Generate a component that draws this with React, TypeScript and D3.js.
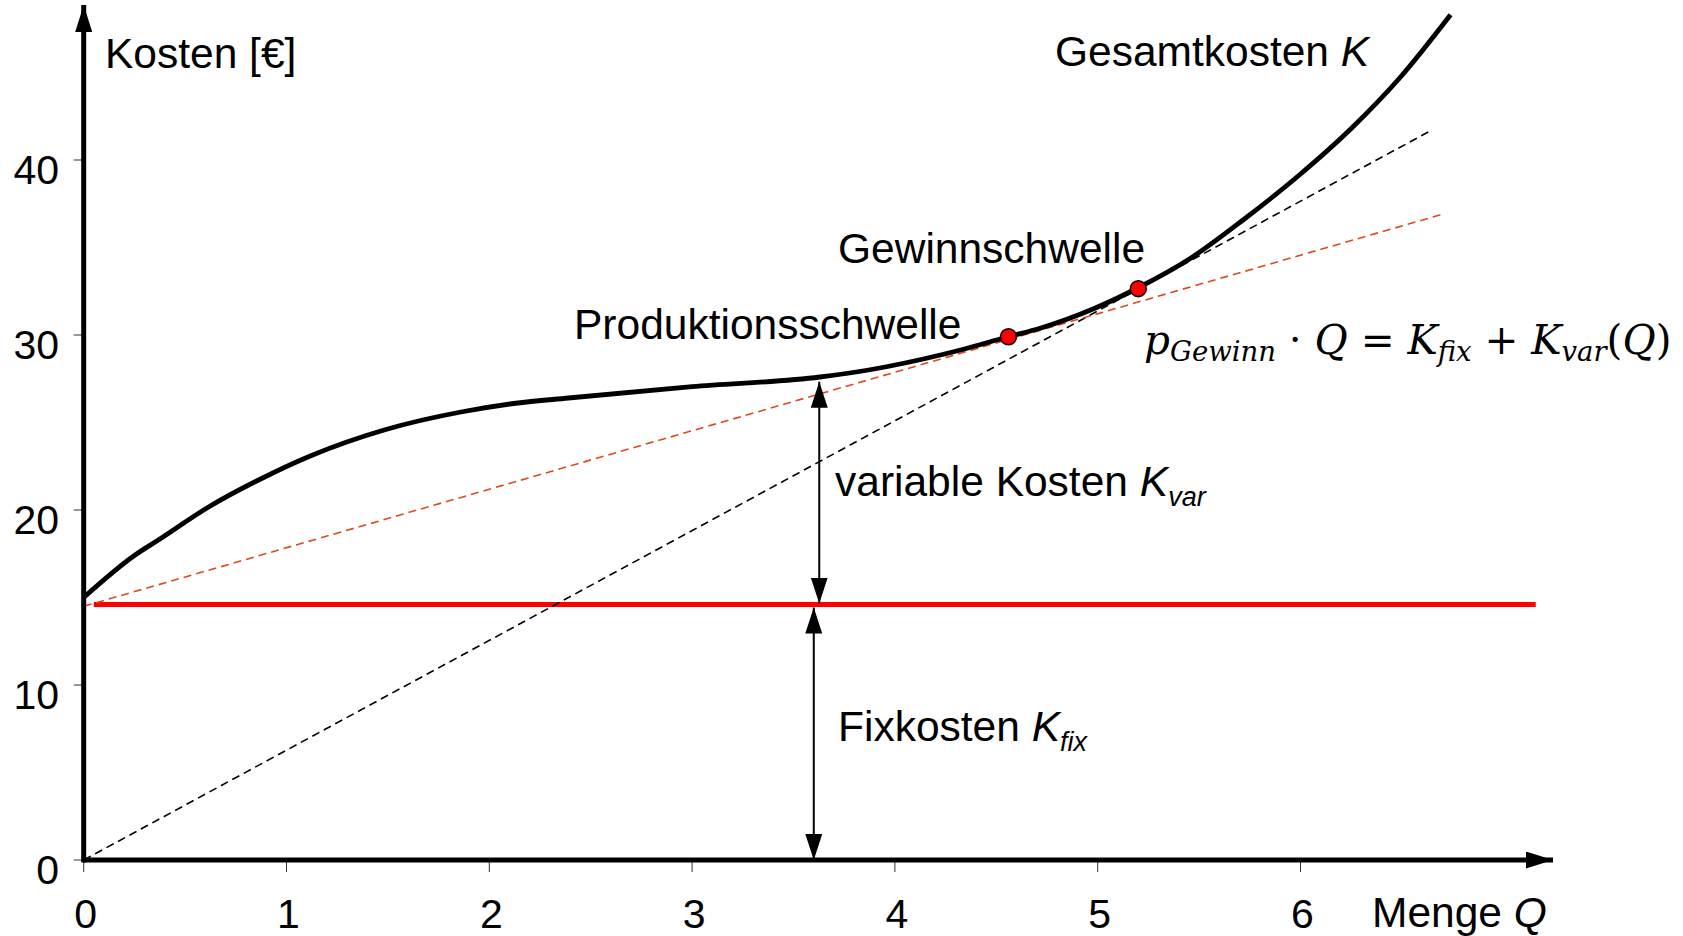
import { useEffect, useRef } from "react";
import * as d3 from "d3";

// tick values
const xTicks = [0, 1, 2, 3, 4, 5, 6];
const yTicks = [0, 10, 20, 30, 40];

// Gesamtkosten K(Q)
const totalQ = [0, 0.25, 0.37, 0.62, 0.86, 1.12, 1.49, 1.86, 2.13, 2.39, 3.0, 3.63, 3.87, 4.24, 4.56, 4.72, 4.98, 5.2, 5.46, 5.72, 5.99, 6.25, 6.49, 6.74];
const totalK = [15.0, 17.4, 18.3, 20.2, 21.7, 23.1, 24.6, 25.6, 26.1, 26.4, 27.05, 27.6, 28.0, 28.9, 29.9, 30.4, 31.5, 32.7, 34.4, 36.6, 39.1, 41.8, 44.7, 48.3];

// fixed costs
const fixCost = 14.6;
const fixQ = [0.05, 7.16];

// tangent through Produktionsschwelle (orange dashed)
const varLineQ = [0, 6.7];
const varLineK = [14.5, 36.9];

// revenue line through origin and Gewinnschwelle (black dashed)
const revLineQ = [0, 6.63];
const revLineK = [0, 41.6];

// marked thresholds
const pointNames = ["Produktionsschwelle", "Gewinnschwelle"];
const pointQ = [4.56, 5.2];
const pointK = [29.9, 32.65];

// dimension arrows
const varArrowQ = 3.627;
const varArrowTop = 27.33;
const fixArrowQ = 3.6;

// axis extents (arrow tips)
const xAxisEnd = 7.245;
const yAxisEnd = 48.86;

const W = 1683;
const H = 936;
const FONT = "'Liberation Sans', Arial, sans-serif";
const MATH = "'DejaVu Serif', serif";

export default function App() {
  const svgRef = useRef<SVGSVGElement>(null);

  useEffect(() => {
    if (!svgRef.current) return;
    const svg = d3.select(svgRef.current);
    svg.selectAll("*").remove();

    const x = d3.scaleLinear().domain([0, 6]).range([83.7, 1300.5]);
    const y = d3.scaleLinear().domain([0, 40]).range([860, 160]);

    const defs = svg.append("defs");
    const marker = (id: string, w: number, l: number) =>
      defs
        .append("marker")
        .attr("id", id)
        .attr("viewBox", `0 0 ${l} ${w}`)
        .attr("refX", l)
        .attr("refY", w / 2)
        .attr("markerWidth", l)
        .attr("markerHeight", w)
        .attr("markerUnits", "userSpaceOnUse")
        .attr("orient", "auto-start-reverse")
        .append("path")
        .attr("d", `M0,0L${l},${w / 2}L0,${w}Z`)
        .attr("fill", "#000");
    marker("axisHead", 17, 27);
    marker("dimHead", 17, 26);

    const g = svg.append("g");

    // ticks
    g.selectAll("line.xt")
      .data(xTicks)
      .join("line")
      .attr("x1", (d) => x(d))
      .attr("x2", (d) => x(d))
      .attr("y1", y(0))
      .attr("y2", y(0) + 12)
      .attr("stroke", "#333")
      .attr("stroke-width", 1);
    g.selectAll("line.yt")
      .data(yTicks)
      .join("line")
      .attr("x1", x(0) - 10)
      .attr("x2", x(0))
      .attr("y1", (d) => y(d))
      .attr("y2", (d) => y(d))
      .attr("stroke", "#333")
      .attr("stroke-width", 1);

    // tick labels
    g.selectAll("text.xl")
      .data(xTicks)
      .join("text")
      .attr("x", (d) => x(d) + 2)
      .attr("y", 928)
      .attr("text-anchor", "middle")
      .style("font-family", FONT)
      .style("font-size", "41px")
      .text((d) => d);
    g.selectAll("text.yl")
      .data(yTicks)
      .join("text")
      .attr("x", 59)
      .attr("y", (d) => y(d) + 24)
      .attr("text-anchor", "end")
      .style("font-family", FONT)
      .style("font-size", "41px")
      .text((d) => d);

    // fixed cost line
    g.append("line")
      .attr("x1", x(fixQ[0]))
      .attr("x2", x(fixQ[1]))
      .attr("y1", y(fixCost))
      .attr("y2", y(fixCost))
      .attr("stroke", "#ff0000")
      .attr("stroke-width", 5);

    // dashed lines
    g.append("line")
      .attr("x1", x(revLineQ[0]))
      .attr("y1", y(revLineK[0]))
      .attr("x2", x(revLineQ[1]))
      .attr("y2", y(revLineK[1]))
      .attr("stroke", "#000")
      .attr("stroke-width", 1.6)
      .attr("stroke-dasharray", "8,5");
    g.append("line")
      .attr("x1", x(varLineQ[0]))
      .attr("y1", y(varLineK[0]))
      .attr("x2", x(varLineQ[1]))
      .attr("y2", y(varLineK[1]))
      .attr("stroke", "#e0481c")
      .attr("stroke-width", 1.6)
      .attr("stroke-dasharray", "8,5");

    // total cost curve
    const line = d3
      .line<number>()
      .x((d) => x(d))
      .y((_, i) => y(totalK[i]))
      .curve(d3.curveMonotoneX);
    g.append("path")
      .attr("d", line(totalQ))
      .attr("fill", "none")
      .attr("stroke", "#000")
      .attr("stroke-width", 4.8)
      .attr("stroke-linejoin", "round");

    // dimension arrows
    g.append("line")
      .attr("x1", x(varArrowQ))
      .attr("x2", x(varArrowQ))
      .attr("y1", y(fixCost) - 1)
      .attr("y2", y(varArrowTop))
      .attr("stroke", "#000")
      .attr("stroke-width", 2)
      .attr("marker-start", "url(#dimHead)")
      .attr("marker-end", "url(#dimHead)");
    g.append("line")
      .attr("x1", x(fixArrowQ))
      .attr("x2", x(fixArrowQ))
      .attr("y1", y(0))
      .attr("y2", y(fixCost) + 3)
      .attr("stroke", "#000")
      .attr("stroke-width", 2)
      .attr("marker-start", "url(#dimHead)")
      .attr("marker-end", "url(#dimHead)");

    // axes
    g.append("line")
      .attr("x1", x(0))
      .attr("x2", x(xAxisEnd))
      .attr("y1", y(0))
      .attr("y2", y(0))
      .attr("stroke", "#000")
      .attr("stroke-width", 5)
      .attr("marker-end", "url(#axisHead)");
    g.append("line")
      .attr("x1", x(0))
      .attr("x2", x(0))
      .attr("y1", y(0) + 2.5)
      .attr("y2", y(yAxisEnd))
      .attr("stroke", "#000")
      .attr("stroke-width", 5)
      .attr("marker-end", "url(#axisHead)");

    // threshold points
    g.selectAll("circle.pt")
      .data(pointNames)
      .join("circle")
      .attr("cx", (_, i) => x(pointQ[i]))
      .attr("cy", (_, i) => y(pointK[i]))
      .attr("r", 8)
      .attr("fill", "#ff0000")
      .attr("stroke", "#000")
      .attr("stroke-width", 1.5);

    const label = (px: number, py: number, parts: [string, string][]) => {
      const t = g
        .append("text")
        .attr("x", px)
        .attr("y", py)
        .style("font-family", FONT)
        .style("font-size", "42.5px");
      parts.forEach(([s, kind]) => {
        const ts = t.append("tspan").text(s);
        if (kind === "i") ts.style("font-style", "italic");
        if (kind === "sub")
          ts.style("font-style", "italic").style("font-size", "27px").attr("dy", 10);
      });
      return t;
    };

    label(105, 68, [["Kosten [€]", ""]]);
    label(1055, 66, [["Gesamtkosten ", ""], ["K", "i"]]);
    label(838, 263, [[pointNames[1], ""]]);
    label(574, 339, [[pointNames[0], ""]]);
    label(835, 496, [["variable Kosten ", ""], ["K", "i"], ["var", "sub"]]);
    label(838, 741, [["Fixkosten ", ""], ["K", "i"], ["fix", "sub"]]);
    label(1372, 927, [["Menge ", ""], ["Q", "i"]]);

    // formula
    const f = g
      .append("text")
      .attr("x", 1144)
      .attr("y", 354)
      .style("font-family", MATH)
      .style("font-size", "40.5px");
    const fm: [string, string, number][] = [
      ["p", "i", 0],
      ["Gewinn", "s", 7],
      [" · ", "n", -7],
      ["Q", "i", 0],
      [" = ", "n", 0],
      ["K", "i", 0],
      ["fix", "s", 7],
      [" + ", "n", -7],
      ["K", "i", 0],
      ["var", "s", 7],
      ["(", "n", -7],
      ["Q", "i", 0],
      [")", "n", 0],
    ];
    fm.forEach(([s, k, dy]) => {
      const ts = f.append("tspan").text(s).attr("dy", dy);
      if (k === "i") ts.style("font-style", "italic");
      if (k === "s") ts.style("font-style", "italic").style("font-size", "27.5px");
    });
  }, []);

  return (
    <svg
      ref={svgRef}
      width={W}
      height={H}
      style={{ position: "absolute", left: 0, top: 0, background: "#fff" }}
    />
  );
}
